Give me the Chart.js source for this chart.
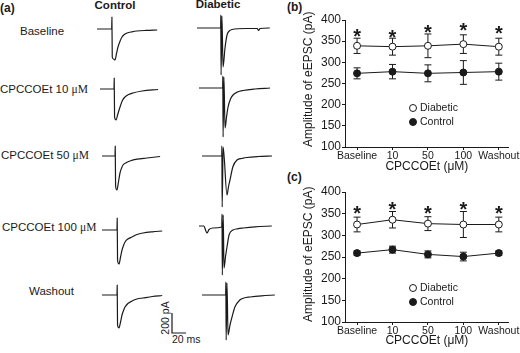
<!DOCTYPE html>
<html>
<head>
<meta charset="utf-8">
<script src="https://cdn.jsdelivr.net/npm/chart.js@4.4.1/dist/chart.umd.min.js"></script>
<style>
  html, body { margin: 0; padding: 0; background: #fff; }
  #wrap { position: relative; width: 520px; height: 353px; overflow: hidden; font-family: 'Liberation Sans', Arial, sans-serif; color: #1a1a1a; }
  canvas { position: absolute; }
  .lbl { position: absolute; transform: translateY(-50%); font-size: 11.5px; line-height: 1; white-space: nowrap; }
  .b { font-weight: bold; }
  .mu { font-family: 'Liberation Serif', 'Times New Roman', serif; }
  .ctr { text-align: center; width: 100px; }
</style>
</head>
<body>
<div id="wrap">
  <div class="lbl b" style="left:0px;top:8px;font-size:12px">(a)</div>
  <div class="lbl b ctr" style="left:65px;top:6px">Control</div>
  <div class="lbl b ctr" style="left:168px;top:5px">Diabetic</div>
  <div class="lbl b" style="left:287px;top:7px;font-size:12px">(b)</div>
  <div class="lbl b" style="left:287px;top:177px;font-size:12px">(c)</div>

  <div class="lbl" style="left:20px;top:32px">Baseline</div>
  <div class="lbl" style="left:0px;top:90px">CPCCOEt 10 <span class="mu">μM</span></div>
  <div class="lbl" style="left:1px;top:156px">CPCCOEt 50 <span class="mu">μM</span></div>
  <div class="lbl" style="left:2px;top:228px">CPCCOEt 100 <span class="mu">μM</span></div>
  <div class="lbl" style="left:29px;top:292px">Washout</div>

  <div class="lbl" style="left:165px;top:318px;font-size:10.5px;transform:translate(-50%,-50%) rotate(-90deg)">200 pA</div>
  <div class="lbl" style="left:172px;top:339px;font-size:10.5px">20 ms</div>

  <canvas id="tc0" width="90" height="75" style="left:97px;top:9px"></canvas>
  <canvas id="tc1" width="90" height="75" style="left:100px;top:69px"></canvas>
  <canvas id="tc2" width="90" height="75" style="left:102px;top:136px"></canvas>
  <canvas id="tc3" width="90" height="75" style="left:102px;top:210px"></canvas>
  <canvas id="tc4" width="90" height="75" style="left:102px;top:275px"></canvas>
  <canvas id="td0" width="90" height="75" style="left:197px;top:8px"></canvas>
  <canvas id="td1" width="90" height="75" style="left:199px;top:68px"></canvas>
  <canvas id="td2" width="90" height="75" style="left:202px;top:136px"></canvas>
  <canvas id="td3" width="90" height="75" style="left:199px;top:206px"></canvas>
  <canvas id="td4" width="90" height="75" style="left:202px;top:275px"></canvas>
  <canvas id="scalebar" width="22" height="26" style="left:170px;top:310px"></canvas>

  <canvas id="chartB" width="220" height="174" style="left:300px;top:0px"></canvas>
  <canvas id="chartC" width="220" height="173" style="left:300px;top:175px"></canvas>
</div>

<script>
// ---------- Panel (b) and (c) data ----------
const categories = ['Baseline', '10', '50', '100', 'Washout'];
const yTickValues = [100, 150, 200, 250, 300, 350, 400];
const seriesNames = ['Diabetic', 'Control'];

const bDiabetic    = [339, 337, 339, 343, 337];
const bDiabeticErr = [18, 20, 28, 22, 20];
const bControl     = [274, 278, 274, 276, 278];
const bControlErr  = [13, 17, 20, 28, 20];
const bStars       = [372, 371, 383, 386, 380];

const cDiabetic    = [325, 336, 327, 325, 325];
const cDiabeticErr = [17, 19, 16, 30, 17];
const cControl     = [259, 267, 256, 251, 259];
const cControlErr  = [5, 8, 8, 10, 5];
const cStars       = [362, 371, 362, 371, 362];

// ---------- Panel (a) traces: [time ms, current pA relative to baseline] ----------
const ctrlBaseline = [[0,0],[21,0],[21.3,120],[21.8,-280],[23.5,-300],[25.7,-310],[28,-240],[30,-180],[33,-120],[35.7,-80],[39,-55],[43,-40],[50,-28],[57,-20],[70,-14],[86,-10]];
const ctrl10 = [[0,0],[20,0],[20.3,110],[20.8,-280],[22.9,-310],[25.5,-250],[28.6,-180],[32,-115],[35.7,-80],[41,-55],[47,-40],[60,-20],[83,-5]];
const ctrl50 = [[0,0],[18.6,0],[18.9,100],[19.4,-300],[21.4,-340],[23.5,-260],[25.7,-170],[28,-120],[30,-90],[35,-65],[40,-50],[50,-32],[64,-20],[83,-5]];
const ctrl100 = [[0,0],[21.4,0],[21.7,120],[22.2,-300],[24.3,-340],[26.5,-270],[28.6,-200],[31,-150],[32.9,-120],[37,-90],[42.9,-70],[50,-45],[58.6,-30],[72,-18],[86,-10]];
const ctrlWash = [[0,0],[21.4,0],[21.7,100],[22.2,-300],[24.3,-330],[26.5,-270],[28.6,-200],[31,-150],[32.9,-120],[37,-85],[42.9,-60],[50,-40],[58.6,-30],[72,-15],[86,-5]];

const diabBaseline = [[0,0],[33.8,0],[34,130],[34.4,-470],[35.6,120],[37.2,-390],[40,-200],[42.9,-70],[46,-30],[50,-15],[70,-5],[86,-5],[88,-25],[90,-5],[104,0]];
const diab10 = [[0,0],[33.8,0],[34,120],[34.4,-490],[35.6,110],[37.2,-400],[39.5,-280],[41.5,-190],[45,-110],[48.6,-70],[55,-40],[63,-25],[80,-10],[101.5,0]];
const diab50 = [[0,0],[28.2,0],[28.4,100],[28.8,-510],[30.2,90],[35.7,-390],[38,-300],[40,-240],[44,-110],[50,-40],[57,-25],[64,-15],[80,-5],[100,0]];
const diab100 = [[0,0],[7,0],[9.3,-40],[11.4,-70],[14.3,-35],[20,-20],[32.5,-10],[32.9,120],[33.3,-490],[34.6,110],[35.7,-420],[38,-300],[40,-210],[42.9,-90],[48.6,-40],[55,-28],[63,-20],[80,-8],[104,0]];
const diabWash = [[0,0],[33.8,0],[34.1,130],[34.5,-450],[35.7,120],[37.2,-400],[40,-300],[42.9,-220],[47,-120],[54,-50],[60,-30],[68.6,-20],[85,-8],[104,0]];

const scaleBarMs = 20;
const scaleBarPa = 200;

// ---------- common ----------
Chart.defaults.font.family = "'Liberation Sans', Arial, sans-serif";
Chart.defaults.color = '#1a1a1a';
const INK = '#1a1a1a';

const PX_PER_MS = 0.7;   // horizontal scale of traces
const PA_PER_PX = 10;    // vertical scale of traces

function traceChart(id, pts) {
  const c = document.getElementById(id);
  new Chart(c, {
    type: 'scatter',
    data: { datasets: [{
      data: pts.map(p => ({ x: p[0], y: p[1] })),
      showLine: true, pointRadius: 0, borderColor: INK, borderWidth: 1.2,
      borderJoinStyle: 'round', cubicInterpolationMode: 'monotone', fill: false
    }]},
    options: {
      responsive: false, animation: false, events: [],
      layout: { padding: 0 },
      plugins: { legend: { display: false }, tooltip: { enabled: false } },
      scales: {
        x: { type: 'linear', display: false, min: 0, max: c.width / PX_PER_MS },
        y: { type: 'linear', display: false, min: 200 - c.height * PA_PER_PX, max: 200 }
      }
    }
  });
}
traceChart('tc0', ctrlBaseline);
traceChart('tc1', ctrl10);
traceChart('tc2', ctrl50);
traceChart('tc3', ctrl100);
traceChart('tc4', ctrlWash);
traceChart('td0', diabBaseline);
traceChart('td1', diab10);
traceChart('td2', diab50);
traceChart('td3', diab100);
traceChart('td4', diabWash);

// scale bar
(function () {
  const c = document.getElementById('scalebar');
  const ox = 2, oy = 23; // corner inside the canvas
  new Chart(c, {
    type: 'scatter',
    data: { datasets: [{
      data: [{ x: 0, y: scaleBarPa }, { x: 0, y: 0 }, { x: scaleBarMs, y: 0 }],
      showLine: true, pointRadius: 0, borderColor: INK, borderWidth: 1.2, tension: 0
    }]},
    options: {
      responsive: false, animation: false, events: [],
      plugins: { legend: { display: false }, tooltip: { enabled: false } },
      scales: {
        x: { type: 'linear', display: false, min: -ox / PX_PER_MS, max: (c.width - ox) / PX_PER_MS },
        y: { type: 'linear', display: false, min: -(c.height - oy) * PA_PER_PX, max: oy * PA_PER_PX }
      }
    }
  });
})();

// ---------- plugins for (b)/(c) ----------
const errorBarPlugin = {
  id: 'errBars',
  beforeDatasetsDraw(chart, args, opts) {
    const ctx = chart.ctx, ys = chart.scales.y;
    ctx.save();
    ctx.strokeStyle = INK; ctx.lineWidth = 1;
    chart.data.datasets.forEach((ds, i) => {
      const meta = chart.getDatasetMeta(i);
      ds.errors.forEach((e, j) => {
        const x = meta.data[j].x;
        const v = ds.data[j].y;
        const t = ys.getPixelForValue(v + e), b = ys.getPixelForValue(v - e);
        ctx.beginPath();
        ctx.moveTo(x, t); ctx.lineTo(x, b);
        ctx.moveTo(x - 3.5, t); ctx.lineTo(x + 3.5, t);
        ctx.moveTo(x - 3.5, b); ctx.lineTo(x + 3.5, b);
        ctx.stroke();
      });
    });
    ctx.restore();
  },
  afterDatasetsDraw(chart, args, opts) {
    const ctx = chart.ctx, xs = chart.scales.x, ys = chart.scales.y;
    ctx.save();
    // significance asterisks
    ctx.fillStyle = INK;
    ctx.font = "bold 20px 'Liberation Sans', Arial, sans-serif";
    ctx.textAlign = 'center'; ctx.textBaseline = 'alphabetic';
    opts.stars.forEach((s, j) => {
      ctx.fillText('*', xs.getPixelForValue(j), ys.getPixelForValue(s) + 11.4);
    });
    // in-plot legend
    const ca = chart.chartArea;
    ctx.font = "10.5px 'Liberation Sans', Arial, sans-serif";
    ctx.textAlign = 'left'; ctx.textBaseline = 'middle';
    chart.data.datasets.forEach((ds, i) => {
      const mx = ca.left + opts.legendX, my = ca.top + opts.legendY + i * 14;
      ctx.beginPath();
      ctx.arc(mx, my, 3.5, 0, Math.PI * 2);
      ctx.fillStyle = ds.pointBackgroundColor; ctx.fill();
      ctx.strokeStyle = INK; ctx.lineWidth = 1; ctx.stroke();
      ctx.fillStyle = INK;
      ctx.fillText(ds.label, mx + 7, my + 0.5);
    });
    ctx.restore();
  }
};

function makePanel(id, diab, diabErr, ctrl, ctrlErr, stars, padTop, areaH, legendY) {
  const c = document.getElementById(id);
  const xAxisH = c.height - padTop - areaH;
  const mk = (vals, errs, name, fillCol) => ({
    label: name,
    data: vals.map((v, i) => ({ x: i, y: v })),
    errors: errs,
    borderColor: INK, borderWidth: 1,
    pointRadius: 3.5, pointBorderWidth: 1,
    pointBackgroundColor: fillCol, pointBorderColor: INK,
    showLine: true, tension: 0, fill: false
  });
  new Chart(c, {
    type: 'scatter',
    data: { datasets: [
      mk(diab, diabErr, seriesNames[0], '#ffffff'),
      mk(ctrl, ctrlErr, seriesNames[1], INK)
    ]},
    options: {
      responsive: false, animation: false, events: [],
      layout: { padding: { top: padTop, right: 11, left: 0, bottom: 0 } },
      plugins: {
        legend: { display: false }, tooltip: { enabled: false },
        errBars: { stars: stars, legendX: 68, legendY: legendY }
      },
      scales: {
        x: {
          type: 'linear', min: -0.34, max: 4.28,
          afterBuildTicks: s => { s.ticks = categories.map((_, i) => ({ value: i })); },
          afterFit: s => { s.height = xAxisH; },
          grid: { display: true, drawOnChartArea: false, drawTicks: true, tickLength: 3, color: INK },
          border: { display: true, color: INK, width: 1 },
          ticks: { font: { size: 10.5 }, color: INK, padding: 0, maxRotation: 0, autoSkip: false,
                   callback: v => categories[v] },
          title: { display: true, text: 'CPCCOEt (μM)', font: { size: 12 }, color: INK, padding: { top: 0, bottom: 0 } }
        },
        y: {
          type: 'linear', min: 100, max: 400,
          afterBuildTicks: s => { s.ticks = yTickValues.map(v => ({ value: v })); },
          afterFit: s => { s.width = 45; },
          grid: { display: true, drawOnChartArea: false, drawTicks: true, tickLength: 3, color: INK },
          border: { display: true, color: INK, width: 1 },
          ticks: { font: { size: 12 }, color: INK, padding: 1 },
          title: { display: true, text: 'Amplitude of eEPSC (pA)', align: 'start', font: { size: 12 }, color: INK, padding: { top: 1, bottom: 0 } }
        }
      }
    },
    plugins: [errorBarPlugin]
  });
}

makePanel('chartB', bDiabetic, bDiabeticErr, bControl, bControlErr, bStars, 20, 127, 88);
makePanel('chartC', cDiabetic, cDiabeticErr, cControl, cControlErr, cStars, 17, 130, 96);
</script>
</body>
</html>
